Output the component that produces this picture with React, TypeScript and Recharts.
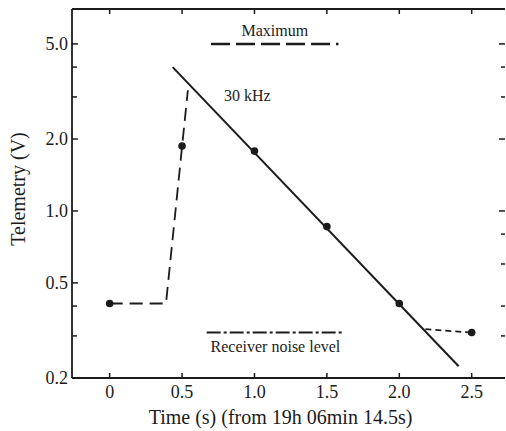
import {
  ComposedChart,
  Line,
  Scatter,
  XAxis,
  YAxis,
  ReferenceLine,
  ReferenceDot,
  Label,
} from "recharts";

const SERIF = '"Liberation Serif", "DejaVu Serif", serif';
const INK = "#1b1b1b";

// axis ticks
const xTicks = [0, 0.5, 1.0, 1.5, 2.0, 2.5];
const yTicksLeft = [0.2, 0.3, 0.4, 0.5, 1, 2, 3, 4, 5];
const yTicksRight = [0.3, 0.4, 0.5, 0.6, 0.7, 0.8, 0.9, 1, 2, 3, 4, 5];
const yLabelled = [0.2, 0.5, 1, 2, 5];

// telemetry readings (s, V)
const measured = [
  { t: 0, v: 0.41 },
  { t: 0.5, v: 1.87 },
  { t: 1.0, v: 1.78 },
  { t: 1.5, v: 0.86 },
  { t: 2.0, v: 0.41 },
  { t: 2.5, v: 0.31 },
];
const riseTrace = [
  { t: 0, v: 0.41 },
  { t: 0.389, v: 0.41 },
  { t: 0.54, v: 3.2 },
];
const decayFit = [
  { t: 0.435, v: 4.0 },
  { t: 2.41, v: 0.224 },
];
const tailTrace = [
  { t: 2.18, v: 0.32 },
  { t: 2.5, v: 0.31 },
];

const maximumLevel = 5.0;
const maximumSpan = [0.7, 1.58];
const noiseLevel = 0.31;
const noiseSpan = [0.67, 1.62];
const kHzNote = { t: 0.95, v: 3.05, text: "30 kHz" };

const LeftTick = ({ x, y, payload }: any) => {
  const major = yLabelled.includes(payload.value);
  return (
    <g>
      <line x1={x} x2={x + (major ? 6 : 5)} y1={y} y2={y} stroke={INK} strokeWidth={1.5} />
      {major && (
        <text x={x - 4} y={y} dy={6} textAnchor="end" fontFamily={SERIF} fontSize={18} fill={INK}>
          {payload.value.toFixed(1)}
        </text>
      )}
    </g>
  );
};

const RightTick = ({ x, y, payload }: any) => {
  const major = yLabelled.includes(payload.value);
  return <line x1={x} x2={x - (major ? 6 : 4)} y1={y} y2={y} stroke={INK} strokeWidth={1.5} />;
};

const BottomTick = ({ x, y, payload }: any) => (
  <g>
    <line x1={x} x2={x} y1={y} y2={y - 5} stroke={INK} strokeWidth={1.5} />
    <text x={x} y={y + 20} textAnchor="middle" fontFamily={SERIF} fontSize={18} fill={INK}>
      {payload.value === 0 ? "0" : payload.value.toFixed(1)}
    </text>
  </g>
);

const TopTick = ({ x, y }: any) => (
  <line x1={x} x2={x} y1={y} y2={y + 5} stroke={INK} strokeWidth={1.5} />
);

export default function App() {
  return (
    <div style={{ position: "absolute", left: 0, top: 0, background: "#fff" }}>
      <ComposedChart width={506} height={431} margin={{ top: 0, right: 0, bottom: 0, left: 0 }}>
        <XAxis
          dataKey="t"
          type="number"
          domain={[-0.26, 2.73]}
          allowDataOverflow
          ticks={xTicks}
          tickSize={0}
          tickMargin={0}
          tickLine={false}
          tick={<BottomTick />}
          height={53}
          axisLine={{ stroke: INK, strokeWidth: 1.8 }}
        >
          <Label
            value="Time (s) (from 19h 06min 14.5s)"
            position="insideBottom"
            offset={7}
            dx={-8}
            fontFamily={SERIF}
            fontSize={20}
            fill={INK}
          />
        </XAxis>
        <XAxis
          xAxisId="top"
          orientation="top"
          dataKey="t"
          type="number"
          domain={[-0.26, 2.73]}
          allowDataOverflow
          ticks={xTicks}
          tickSize={0}
          tickMargin={0}
          tickLine={false}
          tick={<TopTick />}
          height={9}
          axisLine={{ stroke: INK, strokeWidth: 1.8 }}
        />
        <YAxis
          type="number"
          scale="log"
          domain={[0.2, 7]}
          allowDataOverflow
          ticks={yTicksLeft}
          tickSize={0}
          tickMargin={0}
          tickLine={false}
          tick={<LeftTick />}
          width={72}
          axisLine={{ stroke: INK, strokeWidth: 1.8 }}
        >
          <Label
            content={() => (
              <text
                transform="translate(25,189) rotate(-90)"
                textAnchor="middle"
                fontFamily={SERIF}
                fontSize={20}
                fill={INK}
              >
                Telemetry (V)
              </text>
            )}
          />
        </YAxis>
        <YAxis
          yAxisId="right"
          orientation="right"
          type="number"
          scale="log"
          domain={[0.2, 7]}
          allowDataOverflow
          ticks={yTicksRight}
          tickSize={0}
          tickMargin={0}
          tickLine={false}
          tick={<RightTick />}
          width={1}
          axisLine={false}
        />

        <ReferenceLine
          segment={[
            { x: maximumSpan[0], y: maximumLevel },
            { x: maximumSpan[1], y: maximumLevel },
          ]}
          stroke={INK}
          strokeWidth={2.5}
          strokeDasharray="19 6"
          ifOverflow="visible"
        >
          <Label value="Maximum" position="top" offset={8} fontFamily={SERIF} fontSize={16} fill={INK} />
        </ReferenceLine>
        <ReferenceLine
          segment={[
            { x: noiseSpan[0], y: noiseLevel },
            { x: noiseSpan[1], y: noiseLevel },
          ]}
          stroke={INK}
          strokeWidth={2}
          strokeDasharray="14 3 3 3"
          ifOverflow="visible"
        >
          <Label value="Receiver noise level" position="bottom" offset={8} fontFamily={SERIF} fontSize={16} fill={INK} />
        </ReferenceLine>
        <ReferenceDot x={kHzNote.t} y={kHzNote.v} r={0} fill="none" stroke="none" ifOverflow="visible">
          <Label value={kHzNote.text} position="center" fontFamily={SERIF} fontSize={16} fill={INK} />
        </ReferenceDot>

        <Line
          data={riseTrace}
          dataKey="v"
          type="linear"
          stroke={INK}
          strokeWidth={1.8}
          strokeDasharray="13 7"
          dot={false}
          isAnimationActive={false}
        />
        <Line
          data={decayFit}
          dataKey="v"
          type="linear"
          stroke={INK}
          strokeWidth={2}
          dot={false}
          isAnimationActive={false}
        />
        <Line
          data={tailTrace}
          xAxisId="top"
          yAxisId="right"
          dataKey="v"
          type="linear"
          stroke={INK}
          strokeWidth={1.8}
          strokeDasharray="6 4"
          dot={false}
          isAnimationActive={false}
        />
        <Scatter
          data={measured}
          dataKey="v"
          fill={INK}
          isAnimationActive={false}
          shape={(p: any) => <circle cx={p.cx} cy={p.cy} r={3.8} fill={INK} />}
        />
      </ComposedChart>
    </div>
  );
}
